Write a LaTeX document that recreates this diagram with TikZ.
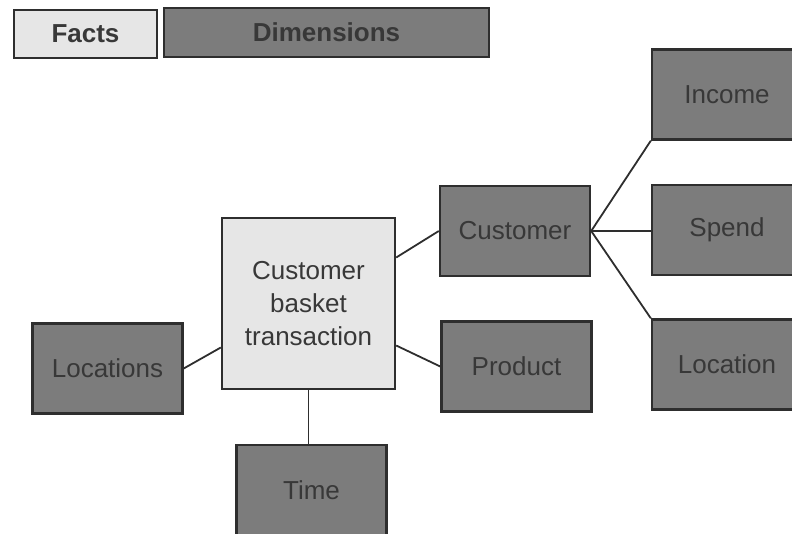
\documentclass[tikz,border=0pt]{standalone}
\usepackage{fontspec}
\setmainfont{Liberation Sans}
\usetikzlibrary{positioning}
\definecolor{darkfill}{HTML}{7C7C7C}
\definecolor{lightfill}{HTML}{E6E6E6}
\definecolor{boxline}{HTML}{2E2E2E}
\definecolor{darktext}{HTML}{383838}

\begin{document}
\begin{tikzpicture}[x=1pt,y=-1pt,line width=1.8pt,draw=boxline]
  \tikzstyle{every node}=[inner sep=0pt,align=center,
                          font=\fontsize{26}{33}\selectfont]
  \tikzstyle{fact}=[draw=boxline,line width=2.4pt,fill=lightfill,text=darktext]
  \tikzstyle{dim}=[draw=boxline,line width=2.4pt,fill=darkfill,text=darktext,
                   minimum width=150pt,minimum height=90pt]
  \useasboundingbox (0,0) rectangle (792,533);

  % legend
  \node[fact,minimum width=143pt,minimum height=48pt,font=\fontsize{26}{33}\bfseries]
        (legfact) at (85.5,34) {Facts};
  \node[dim,minimum width=325pt,minimum height=49pt,font=\fontsize{26}{33}\bfseries]
        (legdim) at (326.5,32.5) {Dimensions};

  % fact table
  \node[fact,minimum width=173pt,minimum height=171pt] (basket) at (308.5,303.5)
        {Customer\\basket\\transaction};

  % dimensions
  \node[dim] (customer)  at (515,231)   {Customer};
  \node[dim] (product)   at (516.5,366.5) {Product};
  \node[dim] (locations) at (107.5,368.5) {Locations};
  \node[dim] (time)      at (311.5,490) {Time};
  \node[dim] (income)    at (727,94.5)  {Income};
  \node[dim] (spend)     at (727,230)   {Spend};
  \node[dim] (location)  at (727,364.5) {Location};

  \draw ([yshift=46pt]basket.east)  -- (customer.west);
  \draw ([yshift=-42pt]basket.east) -- (product.west);
  \draw ([yshift=-44pt]basket.west) -- (locations.east);
  \draw (basket.south) -- (basket.south |- time.north);

  \draw (customer.east) -- (income.south west);
  \draw (customer.east) -- (customer.east -| spend.west);
  \draw (customer.east) -- (location.north west);
\end{tikzpicture}
\end{document}
